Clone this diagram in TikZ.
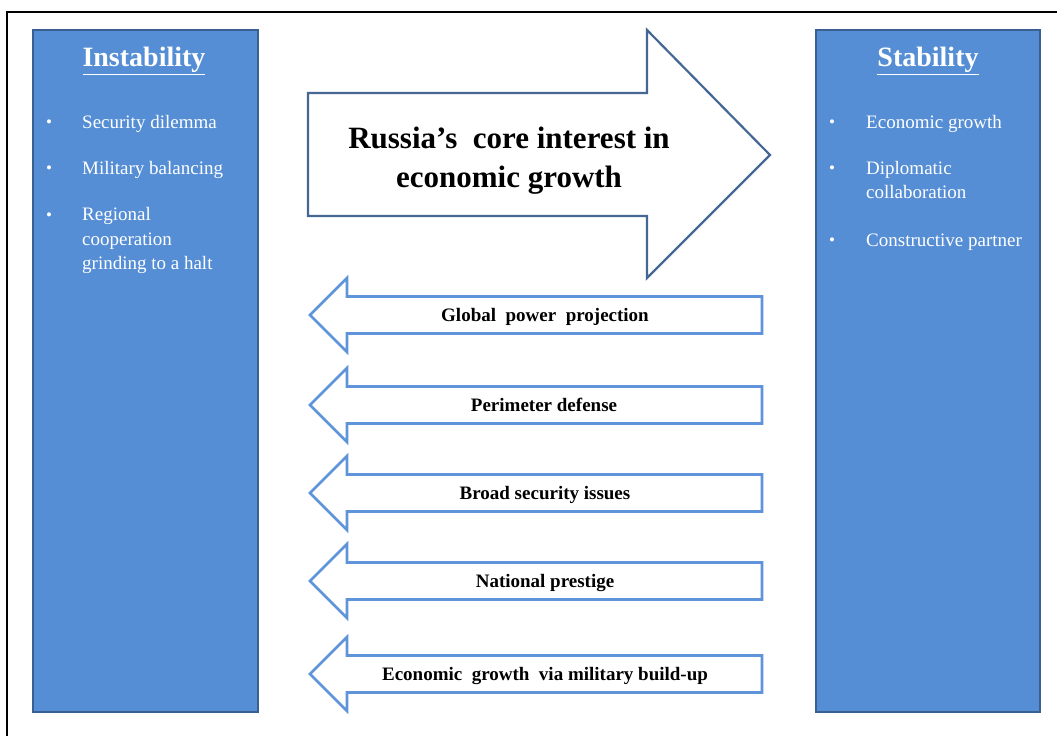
\documentclass[tikz,border=0pt]{standalone}
\usepackage{fontspec}
\setmainfont{Liberation Serif}
\definecolor{panelfill}{RGB}{85,142,213}
\definecolor{paneledge}{RGB}{58,96,146}
\definecolor{bigedge}{RGB}{68,103,148}
\definecolor{smalledge}{RGB}{95,148,218}
\tikzset{
  panel/.style={draw=paneledge, fill=panelfill, line width=2.5pt, inner sep=0pt},
  heading/.style={text=white, font=\bfseries\fontsize{28}{32}\selectfont, inner sep=0pt},
  bul/.style={text=white, font=\fontsize{17}{20}\selectfont, inner sep=0pt, anchor=base},
  item/.style={text=white, font=\fontsize{19}{24.5}\selectfont, inner sep=0pt, align=left},
  biglabel/.style={font=\bfseries\fontsize{31}{39}\selectfont, inner sep=0pt, align=center, anchor=north},
  smalllabel/.style={font=\bfseries\fontsize{19}{22}\selectfont, inner sep=0pt, anchor=base},
  bigarrow/.style={draw=bigedge, fill=white, line width=2.2pt, line join=miter},
  smallarrow/.style={draw=smalledge, fill=white, line width=2.6pt, line join=miter},
  larrow/.pic={
    \draw[smallarrow] (762,-18.5) -- (347,-18.5) -- (347,-37) -- (310,0) -- (347,37) -- (347,18.5) -- (762,18.5) -- cycle;
  }
}
\begin{document}
\begin{tikzpicture}[x=1pt,y=-1pt]
\useasboundingbox (0,0) rectangle (1057,736);
% outer frame
\draw[line width=1.6pt] (1057,12) -- (7,12) -- (7,736);

% side panels
\node[panel, minimum width=225pt, minimum height=682pt] (instab) at (145.5,371) {};
\node[panel, minimum width=224pt, minimum height=682pt] (stab) at (928,371) {};

\node[heading] (insth) at (144,61) {\underline{Instability}};
\node[heading] (stabh) at (928,61) {\underline{Stability}};

% left items
\node[bul] (lb1) at (49,127) {\textbullet};
\node[item, anchor=base west] (li1) at (82,128) {Security dilemma};
\node[bul] (lb2) at (49,173) {\textbullet};
\node[item, anchor=base west] (li2) at (82,174) {Military balancing};
\node[bul] (lb3) at (49,220) {\textbullet};
\node[item, anchor=north west] (li3) at (82,207.5) {Regional\\cooperation\\grinding to a halt};

% right items
\node[bul] (rb1) at (832,127) {\textbullet};
\node[item, anchor=base west] (ri1) at (866,128) {Economic growth};
\node[bul] (rb2) at (832,173) {\textbullet};
\node[item, anchor=north west] (ri2) at (866,161) {Diplomatic\\collaboration};
\node[bul] (rb3) at (832,245) {\textbullet};
\node[item, anchor=base west] (ri3) at (866,246) {Constructive partner};

% big arrow
\draw[bigarrow] (308,93) -- (647,93) -- (647,30) -- (770,155) -- (647,278) -- (647,216) -- (308,216) -- cycle;
\node[biglabel] (core) at (509,127) {Russia’s\ \ core interest in\\economic growth};

% small arrows
\pic at (0,315) {larrow};
\pic at (0,405) {larrow};
\pic at (0,493) {larrow};
\pic at (0,581) {larrow};
\pic at (0,674) {larrow};

\node[smalllabel] (a1) at (545,321.5) {Global\ \ power\ \ projection};
\node[smalllabel] (a2) at (544,411.5) {Perimeter defense};
\node[smalllabel] (a3) at (545,499.5) {Broad security issues};
\node[smalllabel] (a4) at (545,587.5) {National prestige};
\node[smalllabel] (a5) at (545,680.5) {Economic\ \ growth\ \ via military build-up};
\end{tikzpicture}
\end{document}
